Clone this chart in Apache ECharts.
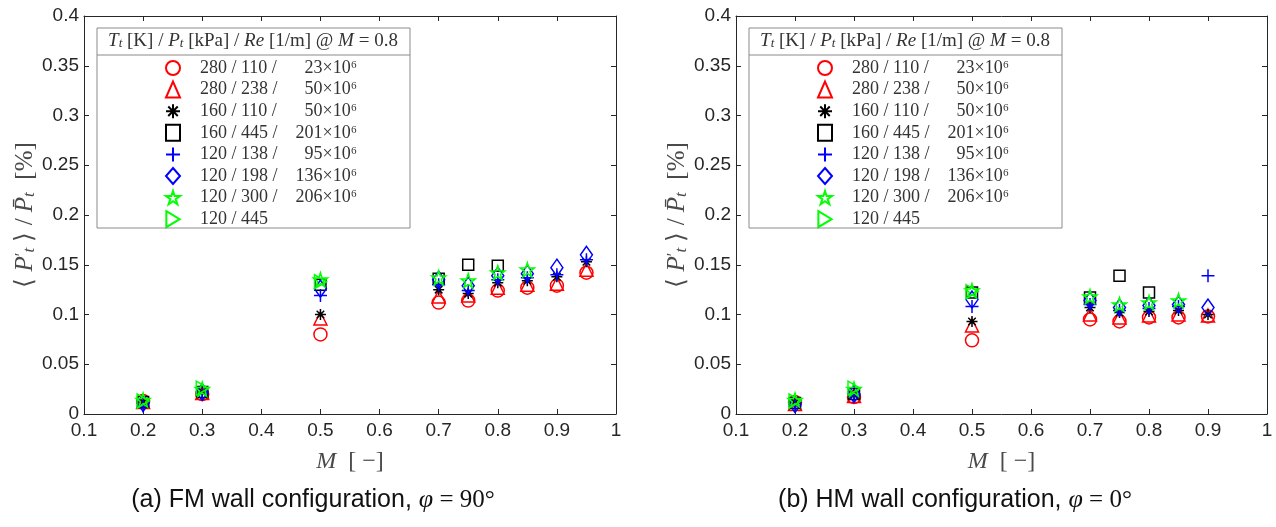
<!DOCTYPE html>
<html><head><meta charset="utf-8">
<script src="https://cdn.jsdelivr.net/npm/echarts@6/dist/echarts.min.js"></script>
<style>html,body{margin:0;padding:0;background:#fff}#c{width:1276px;height:527px}</style>
</head><body><div id="c"></div>
<script>
// ---------- data ----------
const machA = [0.2, 0.3, 0.5, 0.7, 0.75, 0.8, 0.85, 0.9, 0.95];
const machB = [0.2, 0.3, 0.5, 0.7, 0.75, 0.8, 0.85, 0.9];
const seriesNames = ['280/110/23', '280/238/50', '160/110/50', '160/445/201', '120/138/95', '120/198/136', '120/300/206', '120/445'];
const legendLeft = ['280 / 110 /', '280 / 238 /', '160 / 110 /', '160 / 445 /', '120 / 138 /', '120 / 198 /', '120 / 300 /', '120 / 445'];
const legendRight = ['23×10⁶', '50×10⁶', '50×10⁶', '201×10⁶', '95×10⁶', '136×10⁶', '206×10⁶', ''];
// panel (a) FM wall, phi = 90 deg
const fm_280_110 = [0.013, 0.020, 0.080, 0.112, 0.114, 0.124, 0.127, 0.129, 0.142];
const fm_280_238 = [0.012, 0.021, 0.096, 0.118, 0.119, 0.127, 0.130, 0.131, 0.145];
const fm_160_110 = [0.012, 0.022, 0.100, 0.125, 0.121, 0.132, 0.134, 0.138, 0.153];
const fm_160_445 = [0.012, 0.022, 0.130, 0.136, 0.150, 0.149, null, null, null];
const fm_120_138 = [0.008, 0.020, 0.119, 0.130, 0.124, 0.135, 0.137, 0.140, 0.155];
const fm_120_198 = [0.011, 0.022, 0.126, 0.135, 0.129, 0.139, 0.141, 0.147, 0.160];
const fm_120_300 = [0.014, 0.025, 0.135, 0.137, 0.134, 0.142, 0.145, null, null];
const fm_120_445 = [0.013, 0.026, 0.133, null, null, null, null, null, null];
// panel (b) HM wall, phi = 0 deg
const hm_280_110 = [0.012, 0.017, 0.074, 0.095, 0.093, 0.097, 0.097, 0.098];
const hm_280_238 = [0.010, 0.018, 0.089, 0.100, 0.097, 0.099, 0.100, 0.099];
const hm_160_110 = [0.011, 0.019, 0.093, 0.107, 0.102, 0.103, 0.104, 0.100];
const hm_160_445 = [0.011, 0.020, 0.122, 0.117, 0.139, 0.122, null, null];
const hm_120_138 = [0.008, 0.018, 0.108, 0.110, 0.104, 0.106, 0.108, 0.139];
const hm_120_198 = [0.010, 0.020, 0.115, 0.114, 0.107, 0.109, 0.110, 0.107];
const hm_120_300 = [0.014, 0.025, 0.124, 0.118, 0.110, 0.112, 0.114, null];
const hm_120_445 = [0.013, 0.026, 0.123, null, null, null, null, null];
const xTicks = ['0.1', '0.2', '0.3', '0.4', '0.5', '0.6', '0.7', '0.8', '0.9', '1'];
const yTicks = ['0', '0.05', '0.1', '0.15', '0.2', '0.25', '0.3', '0.35', '0.4'];
const captions = ['(a) FM wall configuration, ', '(b) HM wall configuration, '];
const captionAngles = ['90°', '0°'];

// ---------- styles ----------
const RED = '#ff0000', BLK = '#000000', BLU = '#0000ff', GRN = '#00ff00';
const STAR = 'path://M50,0L61.2,34.55L97.55,34.55L68.2,55.9L79.4,90.45L50,69.1L20.6,90.45L31.8,55.9L2.45,34.55L38.8,34.55Z';
const AST = 'path://M5,0L5,10M0,5L10,5M1.6,1.6L8.4,8.4M1.6,8.4L8.4,1.6';
const PLUS = 'path://M5,0L5,10M0,5L10,5';
const RTRI = 'path://M0,0L10,6L0,12Z';
const symDefs = [
  {symbol: 'circle', color: RED, size: 13},
  {symbol: 'triangle', color: RED, size: 13},
  {symbol: AST, color: BLK, size: 11},
  {symbol: 'rect', color: BLK, size: 11},
  {symbol: PLUS, color: BLU, size: 13},
  {symbol: 'diamond', color: BLU, size: [12, 17]},
  {symbol: STAR, color: GRN, size: 14},
  {symbol: RTRI, color: GRN, size: [12, 14]}
];
const dataA = [fm_280_110, fm_280_238, fm_160_110, fm_160_445, fm_120_138, fm_120_198, fm_120_300, fm_120_445];
const dataB = [hm_280_110, hm_280_238, hm_160_110, hm_160_445, hm_120_138, hm_120_198, hm_120_300, hm_120_445];

const AX = '#262626';
const NAMEC = '#4a4a4a';
const grids = [
  {left: 84, top: 16, width: 532, height: 398},
  {left: 736, top: 16, width: 531, height: 398}
];
const xAxes = [], yAxes = [];
grids.forEach((g, gi) => {
  xAxes.push({
    type: 'value', gridIndex: gi, min: 0.1, max: 1, interval: 0.1, position: 'bottom',
    axisLine: {show: true, onZero: false, lineStyle: {color: AX, width: 1}},
    axisTick: {show: true, inside: true, length: 5, lineStyle: {color: AX}},
    axisLabel: {color: AX, fontFamily: 'Liberation Sans, Arial', fontSize: 19, margin: 7,
      formatter: v => xTicks[Math.round(v * 10) - 1]},
    splitLine: {show: false},
    name: '{i|M}  [ −]', nameLocation: 'middle', nameGap: 36,
    nameTextStyle: {color: NAMEC, fontFamily: 'Liberation Serif', fontSize: 24,
      rich: {i: {fontStyle: 'italic', fontFamily: 'Liberation Serif', fontSize: 24, color: NAMEC}}}
  });
  xAxes.push({
    type: 'value', gridIndex: gi, min: 0.1, max: 1, interval: 0.1, position: 'top',
    axisLine: {show: true, onZero: false, lineStyle: {color: AX, width: 1}},
    axisTick: {show: true, inside: true, length: 5, lineStyle: {color: AX}},
    axisLabel: {show: false}, splitLine: {show: false}
  });
  yAxes.push({
    type: 'value', gridIndex: gi, min: 0, max: 0.4, interval: 0.05, position: 'left',
    axisLine: {show: true, onZero: false, lineStyle: {color: AX, width: 1}},
    axisTick: {show: true, inside: true, length: 5, lineStyle: {color: AX}},
    axisLabel: {color: AX, fontFamily: 'Liberation Sans, Arial', fontSize: 19, margin: 5,
      formatter: v => yTicks[Math.round(v * 20)]},
    splitLine: {show: false},
    name: '⟨ {i|P}{sup|′}{sub|t} ⟩ / {i|P̄}{sub|t}  [%]', nameLocation: 'middle', nameGap: 46,
    nameTextStyle: {color: NAMEC, fontFamily: 'Liberation Serif', fontSize: 25,
      rich: {
        i: {fontStyle: 'italic', fontFamily: 'Liberation Serif', fontSize: 25, color: NAMEC},
        sup: {fontFamily: 'Liberation Serif', fontSize: 17, color: NAMEC, verticalAlign: 'top'},
        sub: {fontStyle: 'italic', fontFamily: 'Liberation Serif', fontSize: 17, color: NAMEC, verticalAlign: 'bottom'}
      }}
  });
  yAxes.push({
    type: 'value', gridIndex: gi, min: 0, max: 0.4, interval: 0.05, position: 'right',
    axisLine: {show: true, onZero: false, lineStyle: {color: AX, width: 1}},
    axisTick: {show: true, inside: true, length: 5, lineStyle: {color: AX}},
    axisLabel: {show: false}, splitLine: {show: false}
  });
});

const series = [];
[[dataA, machA, 0], [dataB, machB, 2]].forEach(([dd, mm, ai]) => {
  dd.forEach((arr, si) => {
    const sd = symDefs[si];
    series.push({
      type: 'scatter', name: seriesNames[si], xAxisIndex: ai, yAxisIndex: ai,
      symbol: sd.symbol, symbolSize: sd.size,
      itemStyle: {color: 'rgba(0,0,0,0)', borderColor: sd.color, borderWidth: 1.5, opacity: 1},
      emphasis: {disabled: true},
      data: mm.map((m, k) => arr[k] == null ? null : [m, arr[k]]).filter(p => p)
    });
  });
});

const LF = 18;
const legendRich = {
  g: {width: 15, height: 16, lineHeight: 16},
  a: {fontFamily: 'Liberation Serif', fontSize: LF, color: '#333', width: 82, lineHeight: 16},
  r: {fontFamily: 'Liberation Serif', fontSize: LF, color: '#333', width: 75, align: 'right', lineHeight: 16}
};
const legends = [0, 652].map(off => ({
  orient: 'vertical', left: 165 + off, top: 59, itemWidth: 14, itemHeight: 16, itemGap: 3.6,
  selectedMode: false, padding: 0,
  data: seriesNames,
  formatter: name => {
    const i = seriesNames.indexOf(name);
    return '{g|}{a|' + legendLeft[i] + '}' + (legendRight[i] ? '{r|' + legendRight[i] + '}' : '');
  },
  textStyle: {rich: legendRich, lineHeight: 16}
}));

const graphic = [];
[0, 652].forEach((off, pi) => {
  graphic.push({type: 'rect', shape: {x: 97 + off, y: 28, width: 313, height: 200},
    style: {fill: 'rgba(255,255,255,0)', stroke: '#8a8a8a', lineWidth: 1}, z: 10});
  graphic.push({type: 'line', shape: {x1: 97 + off, y1: 55, x2: 410 + off, y2: 55},
    style: {stroke: '#8a8a8a', lineWidth: 1}, z: 10});
  graphic.push({type: 'text', x: 253 + off, y: 41, z: 11,
    style: {
      text: '{i|T}{s|t} [K] / {i|P}{s|t} [kPa] / {i|Re} [1/m] @ {i|M} = 0.8',
      fontFamily: 'Liberation Serif', fontSize: 19, fill: '#333', align: 'center', verticalAlign: 'middle',
      rich: {
        i: {fontStyle: 'italic', fontFamily: 'Liberation Serif', fontSize: 19, fill: '#333'},
        s: {fontStyle: 'italic', fontFamily: 'Liberation Serif', fontSize: 13, fill: '#333', verticalAlign: 'bottom'}
      }
    }});
  graphic.push({type: 'text', z: 11,
    x: [313, 955][pi], y: 500,
    style: {
      text: captions[pi] + '{p|φ}{n| = ' + captionAngles[pi] + '}',
      fontFamily: 'Liberation Sans, Arial', fontSize: 25, fill: '#111',
      align: 'center', verticalAlign: 'middle',
      rich: {
        p: {fontStyle: 'italic', fontFamily: 'Liberation Serif', fontSize: 26, fill: '#111'},
        n: {fontFamily: 'Liberation Serif', fontSize: 25, fill: '#111'}
      }
    }});
});

const chart = echarts.init(document.getElementById('c'), null, {renderer: 'canvas'});
chart.setOption({
  animation: false,
  backgroundColor: '#ffffff',
  grid: grids,
  xAxis: xAxes,
  yAxis: yAxes,
  legend: legends,
  series: series,
  graphic: graphic
});
</script>
</body></html>
